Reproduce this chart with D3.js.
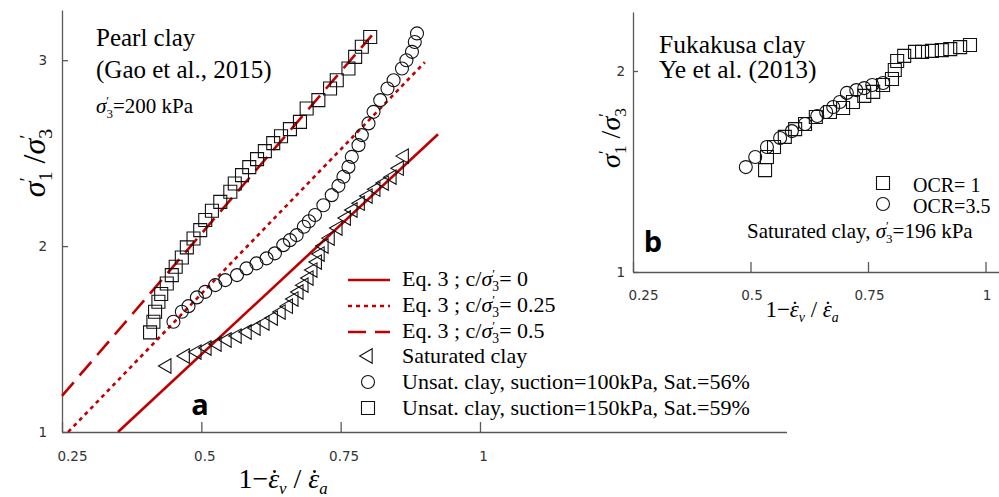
<!DOCTYPE html>
<html>
<head>
<meta charset="utf-8">
<script src="https://cdn.jsdelivr.net/npm/d3@7"></script>
<style>
  html, body { margin: 0; padding: 0; background: #fff; }
  svg { display: block; }
</style>
</head>
<body>
<svg id="chart" width="999" height="497"></svg>
<script>
// ---------- Panel a: Pearl clay (Gao et al., 2015) ----------
const satX = [0.438,0.471,0.492,0.510,0.528,0.546,0.564,0.582,0.598,0.614,0.629,0.643,0.656,0.666,0.675,0.684,0.693,0.700,0.708,0.713,0.720,0.731,0.745,0.760,0.772,0.785,0.799,0.813,0.828,0.842,0.855,0.864];
const satY = [1.355,1.409,1.430,1.452,1.473,1.495,1.516,1.538,1.559,1.586,1.613,1.645,1.677,1.715,1.753,1.790,1.828,1.871,1.914,1.957,2.000,2.043,2.097,2.151,2.194,2.231,2.269,2.306,2.339,2.371,2.419,2.484];

const unsat100X = [0.450,0.465,0.477,0.492,0.507,0.525,0.543,0.564,0.581,0.599,0.617,0.632,0.647,0.659,0.671,0.684,0.693,0.704,0.719,0.734,0.746,0.755,0.764,0.770,0.782,0.788,0.800,0.809,0.821,0.834,0.845,0.860,0.868,0.878,0.883,0.887];
const unsat100Y = [1.593,1.647,1.677,1.724,1.754,1.790,1.817,1.844,1.880,1.907,1.934,1.961,2.005,2.032,2.059,2.104,2.134,2.167,2.220,2.274,2.324,2.373,2.426,2.480,2.543,2.597,2.660,2.722,2.785,2.848,2.892,2.955,3.000,3.045,3.098,3.144];

const unsat150X = [0.408,0.414,0.417,0.423,0.428,0.438,0.447,0.454,0.465,0.474,0.486,0.498,0.507,0.519,0.534,0.552,0.560,0.573,0.586,0.600,0.614,0.629,0.643,0.659,0.677,0.689,0.710,0.731,0.743,0.764,0.776,0.788,0.803];
const unsat150Y = [1.536,1.593,1.647,1.701,1.742,1.799,1.844,1.889,1.939,1.993,2.041,2.086,2.140,2.190,2.238,2.292,2.337,2.382,2.425,2.468,2.511,2.554,2.591,2.629,2.668,2.740,2.785,2.848,2.892,2.955,3.018,3.072,3.125];

// Eq. 3 straight lines, one per c/σ'3 value: [start, end] in (1-ε̇v/ε̇a, σ'1/σ'3)
const eqC = ["0", "0.25", "0.5"];
const eqLineX = [[0.3505, 0.9247], [0.261, 0.901], [0.25, 0.806]];
const eqLineY = [[1.000, 2.602], [1.000, 2.989], [1.194, 3.134]];
const eqDash = [null, "4,4", "18,9"];

const ticksA_X = [0.25, 0.5, 0.75, 1];
const ticksA_Y = [1, 2, 3];

// ---------- Panel b: Fukakusa clay (Ye et al., 2013) ----------
const ocr1X = [0.531,0.535,0.550,0.573,0.595,0.616,0.639,0.669,0.697,0.718,0.742,0.761,0.782,0.801,0.807,0.812,0.827,0.850,0.865,0.886,0.907,0.925,0.946,0.967];
const ocr1Y = [1.507,1.572,1.622,1.672,1.711,1.736,1.771,1.796,1.816,1.846,1.876,1.896,1.930,1.960,2.005,2.050,2.075,2.095,2.095,2.100,2.104,2.109,2.119,2.129];
const ocr35X = [0.490,0.510,0.535,0.563,0.588,0.616,0.642,0.661,0.676,0.690,0.705,0.725,0.742,0.759,0.782];
const ocr35Y = [1.522,1.572,1.622,1.667,1.701,1.736,1.776,1.796,1.821,1.846,1.891,1.905,1.915,1.930,1.940];

const ticksB_X = [0.25, 0.5, 0.75, 1];
const ticksB_Y = [1, 2];

// ---------- drawing ----------
const svg = d3.select("#chart");
const RED = "#c00000";
const AXIS = "#595959";
const SERIF = "'Liberation Serif', 'Times New Roman', serif";
const SANS = "'DejaVu Sans', sans-serif";

// text made of pieces with italic / sub / superscript shifts
function richText(parent, x, y, size, pieces) {
  const t = parent.append("text").attr("x", x).attr("y", y)
    .attr("font-family", SERIF).attr("font-size", size).attr("fill", "#000");
  let cur = 0;
  pieces.forEach(p => {
    const ts = t.append("tspan").text(p.t);
    const shift = p.shift || 0;
    if (shift !== cur) { ts.attr("dy", shift - cur); cur = shift; }
    if (p.dx) ts.attr("dx", p.dx);
    if (p.size) ts.attr("font-size", p.size);
    if (p.italic) ts.attr("font-style", "italic");
  });
  return t;
}
// σ with a prime above its subscript
function sigma(sub, s) {
  return [
    { t: "σ", italic: true },
    { t: "′", size: s * 0.6, shift: -s * 0.36 },
    { t: sub, size: s * 0.62, shift: s * 0.22, dx: -s * 0.13 }
  ];
}
// ε with a dot above (rate)
function epsDot(s) {
  return [{ t: "ε", italic: true }, { t: "˙", dx: -s * 0.34 }];
}
function strainRatio(s) {
  return [
    { t: "1−" },
    ...epsDot(s),
    { t: "v", italic: true, size: s * 0.6, shift: s * 0.22 },
    { t: " / " },
    ...epsDot(s),
    { t: "a", italic: true, size: s * 0.6, shift: s * 0.22 }
  ];
}
function stressRatio(s) {
  return [...sigma("1", s), { t: " /" }, ...sigma("3", s)];
}

function styleAxis(g) {
  g.select(".domain").attr("stroke", AXIS).attr("stroke-width", 1.3);
  g.selectAll(".tick line").attr("stroke", AXIS).attr("stroke-width", 1.3);
  g.selectAll(".tick text").attr("font-family", SANS).attr("font-size", 13.5).attr("fill", "#333");
}

const symTri = d3.symbol(d3.symbolTriangle, 90)();
const symSq = d3.symbol(d3.symbolSquare, 169)();
const symCirc = d3.symbol(d3.symbolCircle, Math.PI * 6.5 * 6.5)();

function drawMarkers(g, xs, ys, x, y, shape) {
  g.selectAll(null).data(xs.map((v, i) => [v, ys[i]])).join("path")
    .attr("d", shape === "tri" ? symTri : shape === "sq" ? symSq : symCirc)
    .attr("transform", d => `translate(${x(d[0])},${y(d[1])})` + (shape === "tri" ? " rotate(-90)" : ""))
    .attr("fill", "none").attr("stroke", "#111").attr("stroke-width", 1.1);
}

// ===== Panel a =====
const xA = d3.scaleLinear().domain([0.25, 1.55]).range([62, 786.5]);
const yA = d3.scaleLinear().domain([1, 3.27]).range([432, 10]);
const gA = svg.append("g");

const axA_x = gA.append("g").attr("transform", "translate(0,432)")
  .call(d3.axisBottom(xA).tickValues(ticksA_X).tickFormat(d3.format("")).tickSizeInner(-10).tickSizeOuter(0).tickPadding(19));
styleAxis(axA_x);
axA_x.selectAll(".tick text").attr("dx", d => d === 0.25 ? 10 : 3);

const axA_y = gA.append("g").attr("transform", "translate(62,0)")
  .call(d3.axisLeft(yA).tickValues(ticksA_Y).tickFormat(d3.format("")).tickSizeInner(-6).tickSizeOuter(0).tickPadding(15));
styleAxis(axA_y);

// Eq. 3 lines
eqC.forEach((c, i) => {
  gA.append("line")
    .attr("x1", xA(eqLineX[i][0])).attr("y1", yA(eqLineY[i][0]))
    .attr("x2", xA(eqLineX[i][1])).attr("y2", yA(eqLineY[i][1]))
    .attr("stroke", RED).attr("stroke-width", 2.6)
    .attr("stroke-dasharray", eqDash[i]);
});

drawMarkers(gA.append("g"), satX, satY, xA, yA, "tri");
drawMarkers(gA.append("g"), unsat100X, unsat100Y, xA, yA, "circ");
drawMarkers(gA.append("g"), unsat150X, unsat150Y, xA, yA, "sq");

// titles
richText(gA, 96, 46, 25, [{ t: "Pearl clay" }]);
richText(gA, 96, 78, 25, [{ t: "(Gao et al., 2015)" }]);
richText(gA, 96, 113, 21, [...sigma("3", 21), { t: "=200 kPa" }]);

// axis titles
richText(gA, 0, 0, 28, strainRatio(28)).attr("text-anchor", "middle").attr("transform", "translate(283,488)");
richText(gA, 0, 0, 32, stressRatio(32)).attr("text-anchor", "middle").attr("transform", "translate(45,163) rotate(-90)");

// panel tag
gA.append("text").attr("x", 200).attr("y", 415).attr("text-anchor", "middle")
  .attr("font-family", "'Open Sans', sans-serif").attr("font-weight", 700).attr("font-size", 29).text("a");

// legend
const legA = gA.append("g");
const legRowsY = [286, 312, 338, 363, 389, 415];
const legLabels = [
  null, null, null,
  "Saturated clay",
  "Unsat. clay, suction=100kPa, Sat.=56%",
  "Unsat. clay, suction=150kPa, Sat.=59%"
];
eqC.forEach((c, i) => {
  legA.append("line").attr("x1", 348).attr("x2", 390)
    .attr("y1", legRowsY[i] - 6).attr("y2", legRowsY[i] - 6)
    .attr("stroke", RED).attr("stroke-width", 2.6).attr("stroke-dasharray", eqDash[i]);
  richText(legA, 402, legRowsY[i], 22, [{ t: "Eq. 3 ; c/" }, ...sigma("3", 22), { t: "= " + c }]);
});
["tri", "circ", "sq"].forEach((shape, k) => {
  const i = k + 3;
  legA.append("path")
    .attr("d", shape === "tri" ? symTri : shape === "sq" ? symSq : symCirc)
    .attr("transform", `translate(368,${legRowsY[i] - 7})` + (shape === "tri" ? " rotate(-90)" : ""))
    .attr("fill", "none").attr("stroke", "#111").attr("stroke-width", 1.1);
  richText(legA, 402, legRowsY[i], 22, [{ t: legLabels[i] }]);
});

// ===== Panel b =====
const xB = d3.scaleLinear().domain([0.25, 1.0287]).range([633, 999]);
const yB = d3.scaleLinear().domain([1, 2.2935]).range([272, 12]);
const gB = svg.append("g");

const axB_x = gB.append("g").attr("transform", "translate(0,272)")
  .call(d3.axisBottom(xB).tickValues(ticksB_X).tickFormat(d3.format("")).tickSizeInner(-10).tickSizeOuter(0).tickPadding(18));
styleAxis(axB_x);
axB_x.selectAll(".tick text").attr("dx", d => d === 0.25 ? 10 : 1);

const axB_y = gB.append("g").attr("transform", "translate(633,0)")
  .call(d3.axisLeft(yB).tickValues(ticksB_Y).tickFormat(d3.format("")).tickSizeInner(-5).tickSizeOuter(0).tickPadding(8));
styleAxis(axB_y);

drawMarkers(gB.append("g"), ocr1X, ocr1Y, xB, yB, "sq");
drawMarkers(gB.append("g"), ocr35X, ocr35Y, xB, yB, "circ");

richText(gB, 659, 53, 25.5, [{ t: "Fukakusa clay" }]);
richText(gB, 659, 78, 25.5, [{ t: "Ye et al. (2013)" }]);

richText(gB, 0, 0, 23, strainRatio(23)).attr("text-anchor", "middle").attr("transform", "translate(802,317)");
richText(gB, 0, 0, 28, stressRatio(28)).attr("text-anchor", "middle").attr("transform", "translate(620,138) rotate(-90)");

gB.append("text").attr("x", 653).attr("y", 252).attr("text-anchor", "middle")
  .attr("font-family", "'Open Sans', sans-serif").attr("font-weight", 700).attr("font-size", 29).text("b");

// legend b
gB.append("path").attr("d", symSq).attr("transform", "translate(883,183)")
  .attr("fill", "none").attr("stroke", "#111").attr("stroke-width", 1.1);
gB.append("path").attr("d", symCirc).attr("transform", "translate(883,204)")
  .attr("fill", "none").attr("stroke", "#111").attr("stroke-width", 1.1);
richText(gB, 913, 192, 20, [{ t: "OCR= 1" }]);
richText(gB, 913, 213, 20, [{ t: "OCR=3.5" }]);
richText(gB, 747, 238, 21, [{ t: "Saturated clay, " }, ...sigma("3", 21), { t: "=196 kPa" }]);
</script>
</body>
</html>
